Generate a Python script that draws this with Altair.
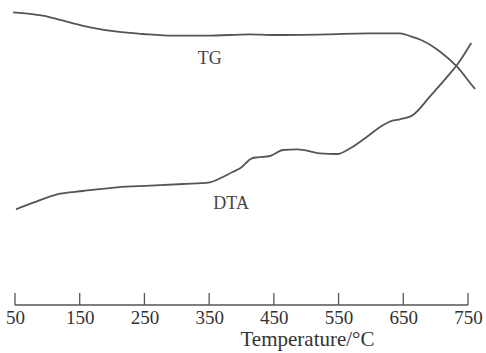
import altair as alt
import pandas as pd

# Temperature (°C) and relative signal (arbitrary units)
tg_temp = [47, 93, 130, 166, 208, 248, 294, 347, 413, 449, 532, 594, 645, 660, 680, 707, 733, 758, 761]
tg_val = [292.7, 289.3, 283.3, 277.7, 273.3, 271, 269.3, 269.3, 270.7, 270, 270.7, 271.7, 271.7, 269, 264.3, 253.3, 238.3, 218.3, 216]

dta_temp = [51.5, 78, 115, 155, 208, 259, 310, 351, 367, 387, 398, 416, 425, 444, 464, 486, 501, 521, 548, 568,
            594, 619, 633, 645, 665, 691, 718, 733, 755]
dta_val = [95.7, 102.3, 110.7, 114, 117.7, 119.3, 121, 122.7, 126.7, 133.3, 136.7, 146.7, 147.7, 149, 155, 155.7,
           154.3, 151.7, 151, 156.7, 168.3, 180, 184.3, 185.7, 190, 208.3, 228.3, 240, 262]

tick_values = [50, 150, 250, 350, 450, 550, 650, 750]

labels = ["TG", "DTA"]
label_temp = [351, 384]
label_val = [246, 101]

rows = [{"T": t, "v": v, "series": "TG", "order": i} for i, (t, v) in enumerate(zip(tg_temp, tg_val))]
rows += [{"T": t, "v": v, "series": "DTA", "order": i} for i, (t, v) in enumerate(zip(dta_temp, dta_val))]
df = pd.DataFrame(rows)

ticks_df = pd.DataFrame({"T": tick_values})
axis_df = pd.DataFrame({"T": [tick_values[0]], "T2": [tick_values[-1]]})
labels_df = pd.DataFrame({"label": labels, "T": label_temp, "v": label_val})

FONT = "Liberation Serif"
GREY = "#555555"

xscale = alt.Scale(domain=[50, 750], nice=False, zero=False)
yscale = alt.Scale(domain=[0, 305], nice=False, zero=False)

lines = alt.Chart(df).mark_line(strokeWidth=1.8, interpolate="monotone").encode(
    x=alt.X("T:Q", scale=xscale,
            axis=alt.Axis(values=tick_values, title="Temperature/°C", grid=False, ticks=False,
                          domain=False, labelFont=FONT, labelFontSize=19,
                          labelColor="#333333", labelPadding=3, labelFlush=False,
                          titleFont=FONT, titleFontSize=21, titleFontWeight="normal",
                          titleColor="#333333", titleX=292, titleY=40,
                          titleBaseline="alphabetic",
                          titleAnchor="middle", titleAlign="center")),
    y=alt.Y("v:Q", scale=yscale, axis=None),
    detail="series:N",
    order="order:Q",
    color=alt.value(GREY),
)

axis_line = alt.Chart(axis_df).mark_rule(strokeWidth=1.3, color=GREY).encode(
    x=alt.X("T:Q", scale=xscale),
    x2="T2:Q",
    y=alt.datum(0, scale=yscale),
)

ticks = alt.Chart(ticks_df).mark_rule(strokeWidth=1.3, color=GREY).encode(
    x=alt.X("T:Q", scale=xscale),
    y=alt.datum(0, scale=yscale),
    y2=alt.datum(12),
)

texts = alt.Chart(labels_df).mark_text(font=FONT, fontSize=18, color="#444444").encode(
    x=alt.X("T:Q", scale=xscale),
    y=alt.Y("v:Q", scale=yscale),
    text="label:N",
)

chart = alt.layer(lines, axis_line, ticks, texts).properties(
    width=453, height=305,
    autosize=alt.AutoSizeParams(type="none"),
    padding={"left": 15, "top": 0, "right": 18, "bottom": 48},
    background="white",
).configure_view(stroke=None)

chart.save("out.html", embed_options={"renderer": "svg", "actions": False})
